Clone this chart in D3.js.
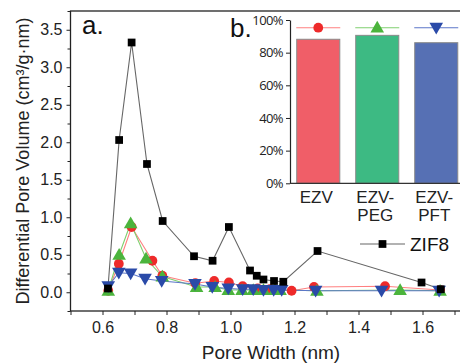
<!DOCTYPE html>
<html>
<head>
<meta charset="utf-8">
<script src="https://cdn.jsdelivr.net/npm/d3@7"></script>
<style>
  body { margin: 0; background: #fff; }
  svg { display: block; font-family: "Liberation Sans", Arial, sans-serif; }
  .axis path, .axis line { stroke: #222; }
  .axis text { fill: #222; }
</style>
</head>
<body>
<svg id="chart" width="460" height="364"></svg>
<script>
// main panel data (pore width in nm, differential pore volume)
const zifX = [0.617, 0.652, 0.691, 0.739, 0.788, 0.886, 0.944, 0.995, 1.061, 1.082, 1.103, 1.136, 1.165, 1.272, 1.597, 1.657];
const zifY = [0.05, 2.03, 3.33, 1.71, 0.95, 0.48, 0.42, 0.87, 0.29, 0.22, 0.17, 0.15, 0.14, 0.55, 0.13, 0.04];

const ezvX = [0.618, 0.651, 0.691, 0.756, 0.787, 0.89, 0.949, 0.995, 1.038, 1.085, 1.123, 1.191, 1.261, 1.483, 1.655];
const ezvY = [0.02, 0.38, 0.87, 0.42, 0.22, 0.12, 0.15, 0.13, 0.08, 0.05, 0.04, 0.02, 0.07, 0.08, 0.03];

const pegX = [0.618, 0.652, 0.688, 0.736, 0.787, 0.894, 0.952, 0.993, 1.036, 1.071, 1.103, 1.139, 1.155, 1.27, 1.53, 1.655];
const pegY = [0.02, 0.5, 0.92, 0.45, 0.21, 0.07, 0.07, 0.03, 0.03, 0.03, 0.03, 0.03, 0.03, 0.02, 0.03, 0.02];

const pftX = [0.618, 0.651, 0.688, 0.733, 0.785, 0.889, 0.943, 0.993, 1.038, 1.071, 1.103, 1.135, 1.16, 1.266, 1.472, 1.652];
const pftY = [0.08, 0.26, 0.25, 0.18, 0.15, 0.11, 0.07, 0.05, 0.04, 0.04, 0.03, 0.03, 0.03, 0.02, 0.02, 0.02];

const xTicks = [0.6, 0.8, 1.0, 1.2, 1.4, 1.6];
const yTicks = [0.0, 0.5, 1.0, 1.5, 2.0, 2.5, 3.0, 3.5];

// inset panel data
const barCats = ["EZV", "EZV-PEG", "EZV-PFT"];
const barVals = [88.2, 90.6, 86.1];
const pctTicks = [0, 20, 40, 60, 80, 100];

const box = { left: 70.5, right: 470, top: 11, bottom: 311 };

const svg = d3.select("#chart");

const x = d3.scaleLinear([0.5, 1.7], [box.left, box.left + 384]);
const y = d3.scaleLinear([-0.25, 3.75], [box.bottom, box.top]);

// frame (right side falls outside the picture)
svg.append("rect")
   .attr("x", box.left).attr("y", box.top)
   .attr("width", box.right - box.left).attr("height", box.bottom - box.top)
   .attr("fill", "none").attr("stroke", "#222").attr("stroke-width", 1.3);

// axes
let xAxis = d3.axisBottom(x).tickValues(d3.range(0.5, 1.71, 0.1))
              .tickSize(4).tickSizeOuter(0)
              .tickFormat(d => xTicks.some(t => Math.abs(t - d) < 1e-6) ? d3.format(".1f")(d) : "");
svg.append("g").attr("class", "axis x-axis")
   .attr("transform", `translate(0,${box.bottom})`)
   .call(xAxis)
   .call(g => g.select(".domain").remove())
   .selectAll("text").attr("font-size", 16).attr("dy", "0.95em");

let yAxis = d3.axisLeft(y).tickValues(d3.range(-0.25, 3.76, 0.25))
              .tickSize(4).tickSizeOuter(0)
              .tickFormat(d => yTicks.some(t => Math.abs(t - d) < 1e-6) ? d3.format(".1f")(d) : "");
svg.append("g").attr("class", "axis y-axis")
   .attr("transform", `translate(${box.left},0)`)
   .call(yAxis)
   .call(g => g.select(".domain").remove())
   .call(g => g.selectAll(".tick").filter(d => !yTicks.some(t => Math.abs(t - d) < 1e-6))
                .select("line").attr("x2", -3))
   .selectAll("text").attr("font-size", 16).attr("x", -8);

// axis titles
svg.append("text")
   .attr("x", 271).attr("y", 359)
   .attr("text-anchor", "middle").attr("font-size", 19).attr("fill", "#222")
   .text("Pore Width (nm)");

svg.append("text")
   .attr("transform", `translate(23,161) rotate(-90)`)
   .attr("text-anchor", "middle").attr("dy", "0.35em").attr("font-size", 18).attr("fill", "#222")
   .text("Differential Pore Volume (cm³/g·nm)");

svg.append("text").attr("x", 82).attr("y", 34)
   .attr("font-size", 26).attr("fill", "#111").text("a.");

// series
const series = [
  { xs: ezvX, ys: ezvY, line: "#ff8080", fill: "#ee2a2a", sym: d3.symbolCircle, size: 75, rot: 0 },
  { xs: pegX, ys: pegY, line: "#7fcf6f", fill: "#4bb43c", sym: d3.symbolTriangle, size: 80, rot: 0 },
  { xs: pftX, ys: pftY, line: "#5b76c8", fill: "#2a4aa8", sym: d3.symbolTriangle, size: 80, rot: 180 },
  { xs: zifX, ys: zifY, line: "#666", fill: "#000", sym: d3.symbolSquare, size: 60, rot: 0 }
];

const line = d3.line().x(d => x(d[0])).y(d => y(d[1]));

series.forEach(s => {
  let pts = s.xs.map((v, i) => [v, s.ys[i]]);
  svg.append("path").datum(pts)
     .attr("d", line).attr("fill", "none")
     .attr("stroke", s.line).attr("stroke-width", 1.1);
});
series.forEach(s => {
  let pts = s.xs.map((v, i) => [v, s.ys[i]]);
  svg.append("g").selectAll("path").data(pts).join("path")
     .attr("d", d3.symbol(s.sym, s.size))
     .attr("fill", s.fill)
     .attr("transform", d => `translate(${x(d[0])},${y(d[1]) + (s.sym === d3.symbolTriangle ? (s.rot ? -1 : 1) : 0)}) rotate(${s.rot})`);
});

// ZIF8 legend
const zif = series[3];
const legY = 244;
svg.append("line").attr("x1", 360).attr("x2", 405).attr("y1", legY).attr("y2", legY)
   .attr("stroke", zif.line).attr("stroke-width", 1.1);
svg.append("path").attr("d", d3.symbol(zif.sym, zif.size))
   .attr("transform", `translate(382.5,${legY})`).attr("fill", zif.fill);
svg.append("text").attr("x", 410).attr("y", legY + 7)
   .attr("font-size", 19).attr("fill", "#111").text("ZIF8");

// ---- inset b ----
const insetLeft = 290, insetBottom = 183.3;
const bx = d3.scaleBand(barCats, [insetLeft, 464.5]).paddingInner(0.27).paddingOuter(0.114);
const by = d3.scaleLinear([0, 100], [insetBottom, 20]);

svg.append("rect").attr("x", insetLeft).attr("y", 16).attr("width", 170).attr("height", insetBottom - 16)
   .attr("fill", "#fff");

svg.append("g").selectAll("rect").data(barVals).join("rect")
   .attr("x", (d, i) => bx(barCats[i]))
   .attr("y", d => by(d))
   .attr("width", bx.bandwidth())
   .attr("height", d => insetBottom - by(d))
   .attr("fill", (d, i) => ["#f05e68", "#3dba83", "#5670b4"][i])
   .attr("stroke", "#8a8a8a").attr("stroke-width", 1);

let pAxis = d3.axisLeft(by).tickValues(pctTicks).tickSize(4).tickSizeOuter(0)
              .tickFormat(d => d + "%");
svg.append("g").attr("class", "axis")
   .attr("transform", `translate(${insetLeft},0)`)
   .call(pAxis)
   .call(g => g.select(".domain").attr("stroke-width", 1.2))
   .selectAll("text").attr("font-size", 13).attr("letter-spacing", -0.6)
   .attr("font-family", "'Open Sans', sans-serif").attr("fill", "#333");

svg.append("line").attr("x1", insetLeft).attr("x2", 460)
   .attr("y1", insetBottom).attr("y2", insetBottom)
   .attr("stroke", "#333").attr("stroke-width", 1.2);

// category labels
svg.append("g").selectAll("text").data(barCats).join("text")
   .attr("text-anchor", "middle").attr("font-size", 17).attr("fill", "#222")
   .attr("transform", d => `translate(${bx(d) + bx.bandwidth() / 2 - 2},203)`)
   .each(function (d) {
     let parts = d.includes("-") ? [d.split("-")[0] + "-", d.split("-")[1]] : [d];
     d3.select(this).selectAll("tspan").data(parts).join("tspan")
       .attr("x", 0).attr("dy", (p, i) => i ? "1.08em" : 0).text(p => p);
   });

// inset legend markers
const legendRowY = by(95.3);
[0, 1, 2].forEach(i => {
  let s = series[i];
  let cx = bx(barCats[i]) + bx.bandwidth() / 2;
  svg.append("line").attr("x1", cx - 22).attr("x2", cx + 22)
     .attr("y1", legendRowY).attr("y2", legendRowY)
     .attr("stroke", s.line).attr("stroke-width", 1.1);
  svg.append("path").attr("d", d3.symbol(s.sym, s.size))
     .attr("fill", s.fill)
     .attr("transform", `translate(${cx},${legendRowY + (s.sym === d3.symbolTriangle ? (s.rot ? -1 : 1) : 0)}) rotate(${s.rot})`);
});

svg.append("text").attr("x", 230).attr("y", 37)
   .attr("font-size", 26).attr("fill", "#111").text("b.");
</script>
</body>
</html>
